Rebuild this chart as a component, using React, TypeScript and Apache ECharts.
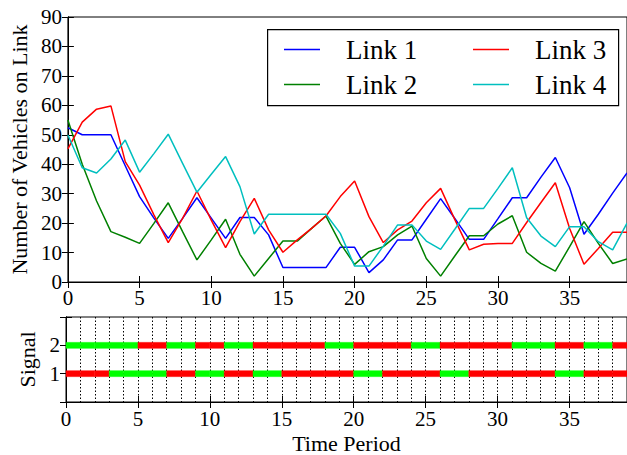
import React, { useEffect, useRef } from "react";
import * as echarts from "echarts";

// Time periods (x values of the link curves)
const periods = [
  0, 1, 2, 3, 4, 5, 6, 7, 8, 9, 10, 11, 12, 13, 14, 15, 16, 17, 18, 19,
  20, 21, 22, 23, 24, 25, 26, 27, 28, 29, 30, 31, 32, 33, 34, 35, 36, 37, 38, 39,
];

const link1 = [
  52.4, 50, 50, 50, 39.5, 29, 21.7, 14.8, 21.6, 28.6, 21.7, 14.8, 21.9, 21.9, 16, 4.9, 4.9, 4.9, 4.9, 11.8,
  11.8, 3.2, 7.5, 14.3, 14.3, 21.3, 28.3, 21.5, 14.5, 14.5, 21.5, 28.6, 28.6, 35.6, 42.3, 32, 16.2, 23, 30.2, 37,
];
const link2 = [
  55, 40, 27.5, 17.1, 15.2, 13.1, 19.9, 26.9, 17.1, 7.5, 14.3, 21.3, 9.4, 2, 8, 13.9, 13.9, 18.2, 22.4, 13.1,
  6, 10.3, 12, 16, 19, 8, 2, 8.9, 15.7, 15.7, 19.7, 22.5, 10.1, 6.3, 3.7, 12, 20.5, 13.1, 6.3, 7.8,
];
const link3 = [
  45.2, 54.3, 58.7, 59.8, 40.9, 32.9, 22.8, 13.4, 21.6, 30.9, 21, 11.7, 20.5, 28.4, 17.7, 10.1, 14.3, 18.2, 22.4, 29,
  34.3, 22.2, 13.4, 17.7, 20.7, 26.9, 31.8, 21.1, 10.9, 12.8, 13.1, 13.1, 20.2, 27, 33.7, 18.2, 6, 11.4, 16.9, 16.9,
];
const link4 = [
  49.9, 38.8, 37, 41.8, 48.2, 37.3, 43.6, 50.2, 40.3, 30.5, 36.6, 42.6, 32.4, 16.3, 23, 23, 23, 23, 23, 16.5,
  5.4, 5.4, 12.2, 19.4, 19.4, 13.9, 11.1, 18, 25, 25, 31.8, 38.8, 21.8, 15.6, 12, 18.8, 18.8, 13.7, 10.9, 20,
];

// Signal state for each period [t, t+1): G = green, R = red
const signal1 = [
  "R", "R", "R", "G", "G", "G", "G", "R", "R", "G", "G", "R", "R", "G", "G", "R", "R", "R", "R", "R",
  "G", "G", "R", "R", "R", "R", "G", "G", "R", "R", "R", "R", "R", "R", "G", "G", "R", "R", "R",
];
const signal2 = [
  "G", "G", "G", "G", "G", "R", "R", "G", "G", "R", "R", "G", "G", "R", "R", "R", "R", "R", "G", "G",
  "R", "R", "R", "R", "G", "G", "R", "R", "R", "R", "R", "G", "G", "G", "R", "R", "G", "G", "R",
];

const seriesNames = ["Link 1", "Link 2", "Link 3", "Link 4"];
const seriesData = [link1, link2, link3, link4];
const seriesColors = ["#0000ff", "#008000", "#ff0000", "#00bfbf"];
const legendOrder = ["Link 1", "Link 3", "Link 2", "Link 4"];

const FONT = "Liberation Serif";
const RED = "#ff0000";
const GREEN = "#00ff00";

export default function App() {
  const ref = useRef<HTMLDivElement>(null);

  useEffect(() => {
    if (!ref.current) return;
    const chart = echarts.init(ref.current, undefined, { renderer: "svg" });

    const signalData: number[][] = [];
    signal1.forEach((s, i) => signalData.push([periods[i], 1, s === "G" ? 1 : 0]));
    signal2.forEach((s, i) => signalData.push([periods[i], 2, s === "G" ? 1 : 0]));

    const axisLineStyle = { show: true, lineStyle: { color: "#000", width: 1 } };
    const tickIn = { show: true, inside: true, length: 6, lineStyle: { color: "#000", width: 1 } };
    const labelStyle = { color: "#000", fontSize: 21, fontFamily: FONT };

    const option: any = {
      animation: false,
      textStyle: { fontFamily: FONT, color: "#000" },
      graphic: [
        {
          type: "rect",
          left: 267,
          top: 29,
          z: 5,
          shape: { width: 351, height: 76 },
          style: { fill: "#fff", stroke: "#000", lineWidth: 1.2 },
        },
      ],
      legend: {
        orient: "horizontal",
        left: 284,
        top: 36,
        width: 380,
        padding: 0,
        itemGap: 8,
        itemWidth: 36,
        itemHeight: 1.6,
        icon: "rect",
        z: 6,
        textStyle: {
          fontSize: 27,
          lineHeight: 26,
          color: "#000",
          fontFamily: FONT,
          padding: [0, 0, 0, 21],
          width: 119,
        },
        data: legendOrder,
      },
      grid: [
        { left: 66, top: 17, width: 564, height: 265, show: true, borderColor: "#000", borderWidth: 1 },
        { left: 66, top: 317, width: 564, height: 88, show: true, borderColor: "#000", borderWidth: 1 },
      ],
      xAxis: [
        {
          type: "value", gridIndex: 0, min: 0, max: 39, interval: 5,
          axisLine: axisLineStyle, axisTick: tickIn,
          axisLabel: { ...labelStyle, margin: 5, showMaxLabel: false },
          splitLine: { show: false },
        },
        {
          type: "value", gridIndex: 0, position: "top", min: 0, max: 39, interval: 5,
          axisLine: axisLineStyle, axisTick: tickIn, axisLabel: { show: false }, splitLine: { show: false },
        },
        {
          type: "value", gridIndex: 1, min: 0, max: 39, interval: 5,
          name: "Time Period", nameLocation: "middle", nameGap: 30,
          nameTextStyle: { fontSize: 22, color: "#000", fontFamily: FONT },
          axisLine: axisLineStyle, axisTick: tickIn,
          axisLabel: { ...labelStyle, margin: 6, showMaxLabel: false },
          splitLine: { show: false },
        },
        {
          type: "value", gridIndex: 1, position: "top", min: 0, max: 39, interval: 5,
          axisLine: axisLineStyle, axisTick: tickIn, axisLabel: { show: false }, splitLine: { show: false },
        },
        {
          type: "value", gridIndex: 1, min: 0, max: 39, interval: 1,
          axisLine: { show: false }, axisTick: { show: false }, axisLabel: { show: false },
          splitLine: { show: true, lineStyle: { color: "#000", width: 1, type: [1.5, 2] } },
        },
      ],
      yAxis: [
        {
          type: "value", gridIndex: 0, min: 0, max: 90, interval: 10,
          name: "Number of Vehicles on Link", nameLocation: "middle", nameGap: 31,
          nameTextStyle: { fontSize: 22, color: "#000", fontFamily: FONT },
          axisLine: axisLineStyle, axisTick: tickIn,
          axisLabel: { ...labelStyle, margin: 6 },
          splitLine: { show: false },
        },
        {
          type: "value", gridIndex: 0, position: "right", min: 0, max: 90, interval: 10,
          axisLine: axisLineStyle, axisTick: tickIn, axisLabel: { show: false }, splitLine: { show: false },
        },
        {
          type: "value", gridIndex: 1, min: 0, max: 3, interval: 1,
          name: "Signal", nameLocation: "middle", nameGap: 28,
          nameTextStyle: { fontSize: 22, color: "#000", fontFamily: FONT },
          axisLine: axisLineStyle, axisTick: tickIn,
          axisLabel: { ...labelStyle, margin: 6, formatter: (v: number) => (v === 1 || v === 2 ? String(v) : "") },
          splitLine: { show: false },
        },
        {
          type: "value", gridIndex: 1, position: "right", min: 0, max: 3, interval: 1,
          axisLine: axisLineStyle, axisTick: tickIn, axisLabel: { show: false }, splitLine: { show: false },
        },
      ],
      series: [
        ...seriesNames.map((name, k) => ({
          name,
          type: "line",
          xAxisIndex: 0,
          yAxisIndex: 0,
          symbol: "none",
          data: periods.map((t, i) => [t, seriesData[k][i]]),
          lineStyle: { color: seriesColors[k], width: 1.5 },
          itemStyle: { color: seriesColors[k] },
          z: 3,
        })),
        {
          name: "signals",
          type: "custom",
          xAxisIndex: 2,
          yAxisIndex: 2,
          data: signalData,
          z: 4,
          renderItem: (params: any, api: any) => {
            const t = api.value(0);
            const s = api.value(1);
            const g = api.value(2);
            const a = api.coord([t, s]);
            const b = api.coord([t + 1, s]);
            const h = 6;
            const c = g ? GREEN : RED;
            return {
              type: "rect",
              shape: { x: a[0], y: a[1] - h / 2, width: b[0] - a[0], height: h },
              style: { fill: c, stroke: c, lineWidth: 0.4 },
            };
          },
        },
      ],
    };

    chart.setOption(option);
    return () => chart.dispose();
  }, []);

  return (
    <div
      ref={ref}
      style={{ position: "fixed", left: 0, top: 0, width: 627, height: 455, background: "#fff" }}
    />
  );
}
